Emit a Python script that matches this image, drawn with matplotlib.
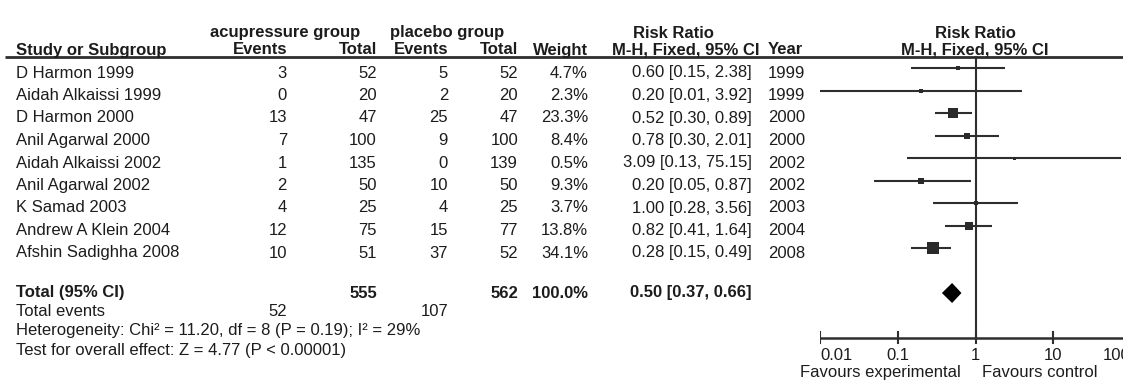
import matplotlib
matplotlib.use("Agg")
import matplotlib.pyplot as plt

plt.rcParams["font.family"] = ["Liberation Sans", "DejaVu Sans"]

# ---- study data ----
studies = ["D Harmon 1999", "Aidah Alkaissi 1999", "D Harmon 2000", "Anil Agarwal 2000",
           "Aidah Alkaissi 2002", "Anil Agarwal 2002", "K Samad 2003",
           "Andrew A Klein 2004", "Afshin Sadighha 2008"]
acu_events = [3, 0, 13, 7, 1, 2, 4, 12, 10]
acu_total = [52, 20, 47, 100, 135, 50, 25, 75, 51]
pla_events = [5, 2, 25, 9, 0, 10, 4, 15, 37]
pla_total = [52, 20, 47, 100, 139, 50, 25, 77, 52]
weights = [4.7, 2.3, 23.3, 8.4, 0.5, 9.3, 3.7, 13.8, 34.1]
rr = [0.60, 0.20, 0.52, 0.78, 3.09, 0.20, 1.00, 0.82, 0.28]
ci_low = [0.15, 0.01, 0.30, 0.30, 0.13, 0.05, 0.28, 0.41, 0.15]
ci_high = [2.38, 3.92, 0.89, 2.01, 75.15, 0.87, 3.56, 1.64, 0.49]
years = [1999, 1999, 2000, 2000, 2002, 2002, 2003, 2004, 2008]

# ---- pooled result ----
total_acu, total_pla, total_weight = 555, 562, 100.0
pooled_rr, pooled_low, pooled_high = 0.50, 0.37, 0.66
events_acu, events_pla = 52, 107
heterogeneity = "Heterogeneity: Chi\u00b2 = 11.20, df = 8 (P = 0.19); I\u00b2 = 29%"
overall = "Test for overall effect: Z = 4.77 (P < 0.00001)"
tick_vals = [0.01, 0.1, 1, 10, 100]
tick_labels = ["0.01", "0.1", "1", "10", "100"]

W, H = 1123, 380
FS = 12
TXT = "#1c1c1c"
LINE = "#2e2e2e"

fig = plt.figure(figsize=(W / 100, H / 100), dpi=100)
tab = fig.add_axes([0, 0, 1, 1])
tab.set_xlim(0, W)
tab.set_ylim(H, 0)
tab.axis("off")


def put(x, y, s, ha="left", bold=False, va="center", **kw):
    tab.text(x, y, s, ha=ha, va=va, fontsize=FS, color=TXT,
             fontweight="bold" if bold else "normal", **kw)


# column anchors (pixels)
x_name, x_ae, x_at, x_pe, x_pt, x_w, x_ci, x_yr = 16, 287, 377, 448, 518, 588, 752, 768
x_plot_c = 975

# header
put(285, 33, "acupressure group", ha="center", bold=True)
put(447, 33, "placebo group", ha="center", bold=True)
put(673, 33, "Risk Ratio", ha="center", bold=True)
put(x_plot_c, 33, "Risk Ratio", ha="center", bold=True)
put(x_name, 50, "Study or Subgroup", bold=True)
put(x_ae, 50, "Events", ha="right", bold=True)
put(x_at, 50, "Total", ha="right", bold=True)
put(x_pe, 50, "Events", ha="right", bold=True)
put(x_pt, 50, "Total", ha="right", bold=True)
put(x_w, 50, "Weight", ha="right", bold=True)
put(612, 50, "M-H, Fixed, 95% CI", bold=True)
put(x_yr, 50, "Year", bold=True)
put(x_plot_c, 50, "M-H, Fixed, 95% CI", ha="center", bold=True)
tab.plot([5, W], [57, 57], color=LINE, lw=2, solid_capstyle="butt")

# study rows
row0, step = 73, 22.5
row_y = [row0 + step * i for i in range(len(studies))]
for i, y in enumerate(row_y):
    put(x_name, y, studies[i])
    put(x_ae, y, str(acu_events[i]), ha="right")
    put(x_at, y, str(acu_total[i]), ha="right")
    put(x_pe, y, str(pla_events[i]), ha="right")
    put(x_pt, y, str(pla_total[i]), ha="right")
    put(x_w, y, f"{weights[i]:.1f}%", ha="right")
    put(x_ci, y, f"{rr[i]:.2f} [{ci_low[i]:.2f}, {ci_high[i]:.2f}]", ha="right")
    put(x_yr, y, str(years[i]))

# totals
y_tot, y_ev, y_het, y_ov = 293, 312, 331, 350
put(x_name, y_tot, "Total (95% CI)", bold=True)
put(x_at, y_tot, str(total_acu), ha="right", bold=True)
put(x_pt, y_tot, str(total_pla), ha="right", bold=True)
put(x_w, y_tot, f"{total_weight:.1f}%", ha="right", bold=True)
put(x_ci, y_tot, f"{pooled_rr:.2f} [{pooled_low:.2f}, {pooled_high:.2f}]", ha="right", bold=True)
put(x_name, y_ev, "Total events")
put(x_ae, y_ev, str(events_acu), ha="right")
put(x_pe, y_ev, str(events_pla), ha="right")
put(x_name, y_het, heterogeneity)
put(x_name, y_ov, overall)

# ---- forest plot on a log axis (0.01 at x=820, 100 just past the right edge) ----
px0, px1 = 820, 1131
ax = fig.add_axes([px0 / W, 0, (px1 - px0) / W, 1])
ax.set_xscale("log")
ax.set_xlim(tick_vals[0], tick_vals[-1])
ax.set_ylim(H, 0)
ax.axis("off")

y_axis = 338
ax.plot([1, 1], [57, y_axis], color=LINE, lw=1.5)
ax.plot([tick_vals[0], tick_vals[-1]], [y_axis, y_axis], color=LINE, lw=1.8,
        solid_capstyle="butt")
for k, (tv, tl) in enumerate(zip(tick_vals, tick_labels)):
    ax.plot([tv, tv], [y_axis - 6, y_axis + 5], color=LINE, lw=1.5)
    ha = "left" if k == 0 else ("right" if k == len(tick_vals) - 1 else "center")
    ax.text(tv, 355, tl, ha=ha, va="center", fontsize=FS, color=TXT,
            clip_on=False)

max_w = max(weights)
for i, y in enumerate(row_y):
    ym = y - 5
    ax.plot([ci_low[i], ci_high[i]], [ym, ym], color=LINE, lw=1.5,
            solid_capstyle="butt")
    side_px = max(3.0, 12.0 * (weights[i] / max_w) ** 0.5)
    ax.plot([rr[i]], [ym], marker="s", ms=side_px * 0.72, color="#2a2a2a",
            mec="#2a2a2a", mew=0)

ax.fill([pooled_low, pooled_rr, pooled_high, pooled_rr],
        [y_tot, y_tot - 10, y_tot, y_tot + 10], color="black", lw=0)

put(880, 377, "Favours experimental", ha="center", va="baseline")
put(1040, 377, "Favours control", ha="center", va="baseline")

fig.savefig("out.png", dpi=100)
